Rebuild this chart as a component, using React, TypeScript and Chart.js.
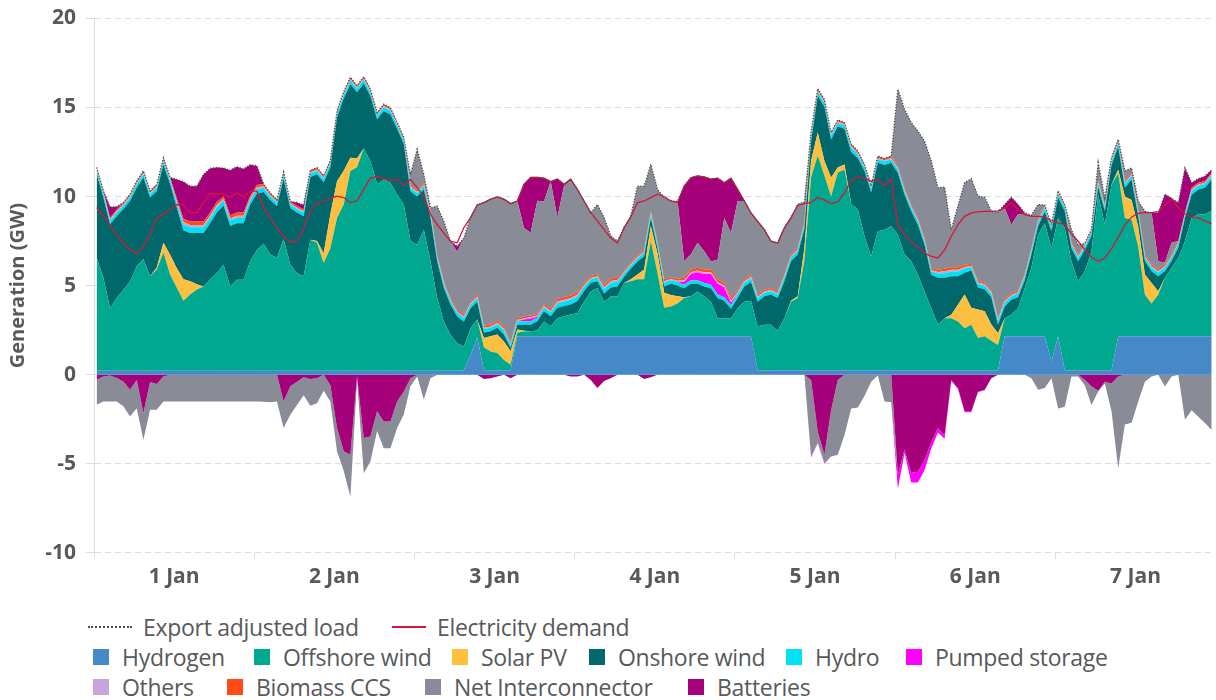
import React, { useEffect, useRef } from "react";
import { Chart, registerables } from "chart.js";

Chart.register(...registerables);

// ---------- DATA (hourly, 7 days = 168 values) ----------
const dayLabels = ["1 Jan", "2 Jan", "3 Jan", "4 Jan", "5 Jan", "6 Jan", "7 Jan"];

const hydrogen = [
  0.22, 0.22, 0.22, 0.22, 0.22, 0.22, 0.22, 0.22, 0.22, 0.22, 0.22, 0.22,
  0.22, 0.22, 0.22, 0.22, 0.22, 0.22, 0.22, 0.22, 0.22, 0.22, 0.22, 0.22,
  0.22, 0.22, 0.22, 0.22, 0.22, 0.22, 0.22, 0.22, 0.22, 0.22, 0.22, 0.22,
  0.22, 0.22, 0.22, 0.22, 0.22, 0.22, 0.22, 0.22, 0.22, 0.22, 0.22, 0.22,
  0.22, 0.22, 0.22, 0.22, 0.22, 0.22, 0.22, 0.25, 1.1, 2.1, 0.25, 0.25,
  0.25, 0.25, 0.25, 2.15, 2.15, 2.15, 2.15, 2.15, 2.15, 2.15, 2.15, 2.15,
  2.15, 2.15, 2.15, 2.15, 2.15, 2.15, 2.15, 2.15, 2.15, 2.15, 2.15, 2.15,
  2.15, 2.15, 2.15, 2.15, 2.15, 2.15, 2.15, 2.15, 2.15, 2.15, 2.15, 2.15,
  2.15, 2.15, 2.15, 0.25, 0.25, 0.25, 0.25, 0.25, 0.25, 0.25, 0.25, 0.25,
  0.25, 0.25, 0.25, 0.25, 0.25, 0.25, 0.25, 0.25, 0.25, 0.25, 0.25, 0.25,
  0.25, 0.25, 0.25, 0.25, 0.25, 0.25, 0.25, 0.25, 0.25, 0.25, 0.25, 0.25,
  0.25, 0.25, 0.25, 0.25, 2.15, 2.15, 2.15, 2.15, 2.15, 2.15, 2.15, 0.75,
  2.15, 0.25, 0.25, 0.25, 0.25, 0.25, 0.25, 0.25, 0.25, 2.15, 2.15, 2.15,
  2.15, 2.15, 2.15, 2.15, 2.15, 2.15, 2.15, 2.15, 2.15, 2.15, 2.15, 2.15,
];

const offshoreWind = [
  6.35, 5.22, 3.51, 4.08, 4.55, 5.01, 5.86, 6.28, 5.31, 5.69, 6.63, 5.41,
  4.66, 3.93, 4.28, 4.56, 4.73, 5.13, 5.48, 5.95, 4.73, 5.11, 5.11, 6.14,
  6.78, 7.13, 6.53, 6.35, 7.38, 5.95, 5.48, 5.3, 7.36, 7.18, 6.05, 6.88,
  8.58, 9.33, 11.21, 11.43, 12.48, 11.78, 10.48, 10.74, 10.55, 9.88, 9.33, 7.28,
  7.08, 7.92, 6.14, 4.08, 2.76, 2.01, 1.54, 1.33, 1.5, 1.0, 1.29, 1.05,
  0.97, 0.58, 0.31, 0.2, 0.27, 0.29, 0.33, 0.83, 0.55, 1.02, 1.13, 1.23,
  1.3, 1.95, 2.52, 2.71, 1.95, 2.24, 2.24, 2.99, 3.1, 3.2, 3.2, 5.35,
  3.55, 1.6, 1.68, 1.85, 2.15, 2.25, 2.52, 2.25, 1.95, 1.02, 1.02, 1.02,
  1.58, 1.95, 2.0, 2.45, 2.55, 2.55, 2.21, 2.92, 3.85, 4.05, 6.15, 10.82,
  12.05, 10.91, 9.75, 11.1, 11.25, 9.35, 9.02, 7.52, 6.39, 7.8, 7.89, 8.08,
  7.61, 6.49, 6.11, 5.36, 4.42, 3.48, 2.55, 2.92, 2.92, 2.73, 2.35, 2.55,
  1.81, 1.91, 1.66, 1.42, 1.02, 1.21, 1.58, 2.71, 3.85, 5.71, 6.35, 6.35,
  6.65, 7.99, 6.11, 4.98, 5.55, 6.67, 9.85, 8.17, 10.43, 9.15, 6.65, 6.55,
  5.05, 2.33, 1.85, 2.33, 3.29, 3.85, 4.42, 5.34, 6.65, 6.85, 6.85, 7.05,
];

const solarPV = [
  0, 0, 0, 0, 0, 0, 0, 0, 0, 0.1, 0.55, 1.1,
  1.1, 1.2, 0.75, 0.3, 0, 0, 0, 0, 0, 0, 0, 0,
  0, 0, 0, 0, 0, 0, 0, 0, 0, 0.1, 0.55, 1.9,
  2.06, 1.9, 0.75, 0.5, 0, 0, 0, 0, 0, 0, 0, 0,
  0, 0, 0, 0, 0, 0, 0, 0, 0, 0, 0.52, 0.85,
  1.03, 1.03, 0.75, 0.18, 0.05, 0, 0, 0, 0, 0, 0, 0,
  0, 0, 0, 0, 0, 0, 0, 0, 0.1, 0.28, 0.55, 0.85,
  1.1, 0.85, 0.64, 0.4, 0.05, 0, 0, 0, 0, 0, 0, 0,
  0, 0, 0, 0, 0, 0, 0, 0, 0.05, 0.1, 0.7, 0.93,
  1.3, 0.84, 1.07, 0.28, 0.3, 0, 0, 0, 0, 0, 0, 0,
  0, 0, 0, 0, 0, 0, 0, 0, 0.19, 0.94, 1.9, 0.95,
  1.6, 1.4, 0.9, 0.66, 0, 0, 0, 0, 0, 0, 0, 0,
  0, 0, 0, 0, 0, 0, 0, 0, 0, 0.2, 1.2, 1.1,
  1.1, 1.15, 1.15, 0.2, 0, 0, 0, 0, 0, 0, 0, 0,
];

const onshoreWind = [
  4.69, 4.51, 4.71, 4.6, 4.53, 4.52, 4.42, 4.57, 4.41, 4.29, 4.4, 3.97,
  3.4, 2.75, 2.7, 2.87, 3.0, 3.15, 3.4, 3.33, 3.4, 3.17, 3.17, 3.19,
  3.15, 2.9, 3.05, 2.88, 3.4, 3.18, 3.4, 3.38, 3.52, 3.75, 3.98, 2.65,
  3.57, 4.05, 4.12, 3.7, 3.65, 3.65, 3.63, 3.84, 3.83, 3.7, 3.4, 2.8,
  2.7, 2.26, 2.44, 2.06, 1.88, 1.69, 1.5, 1.4, 1.13, 1.0, 0.29, 0.29,
  0.38, 0.39, 0.19, 0.27, 0.33, 0.36, 0.52, 0.58, 0.58, 0.58, 0.57, 0.56,
  0.68, 0.59, 0.47, 0.39, 0.45, 0.51, 0.56, 0.36, 0.6, 0.72, 0.75, 0.45,
  0.3, 0.35, 0.63, 0.6, 0.5, 0.7, 0.43, 0.55, 0.75, 1.13, 0.98, 0.53,
  0.57, 0.85, 1.05, 1.4, 1.6, 1.7, 1.84, 2.08, 2.23, 2.35, 1.1, 1.1,
  2.05, 3.05, 2.13, 2.32, 2.0, 2.9, 2.88, 3.66, 3.59, 3.85, 3.63, 3.57,
  3.47, 3.36, 2.81, 2.81, 2.63, 1.88, 2.64, 2.27, 2.17, 1.61, 1.22, 2.1,
  1.24, 1.24, 1.54, 0.47, 0.66, 0.84, 0.62, 0.44, 0.74, 0.47, 0.65, 0.95,
  1.15, 0.93, 0.74, 1.13, 1.2, 0.88, 0.45, 0.75, 1.07, 1.3, 0.5, 1.16,
  0.6, 0.75, 0.65, 0.85, 0.36, 0.38, 0.56, 1.31, 1.3, 1.4, 1.5, 1.76,
];

const hydro = [
  0.2, 0.2, 0.2, 0.2, 0.2, 0.2, 0.2, 0.2, 0.2, 0.2, 0.2, 0.2,
  0.26, 0.32, 0.32, 0.32, 0.32, 0.3, 0.3, 0.26, 0.3, 0.3, 0.3, 0.26,
  0.26, 0.24, 0.21, 0.2, 0.2, 0.2, 0.2, 0.2, 0.2, 0.2, 0.2, 0.2,
  0.2, 0.2, 0.21, 0.2, 0.21, 0.2, 0.2, 0.21, 0.21, 0.2, 0.2, 0.2,
  0.2, 0.2, 0.2, 0.2, 0.2, 0.2, 0.2, 0.2, 0.2, 0.2, 0.21, 0.2,
  0.21, 0.24, 0.16, 0.2, 0.2, 0.2, 0.2, 0.21, 0.22, 0.26, 0.26, 0.26,
  0.26, 0.24, 0.21, 0.2, 0.26, 0.26, 0.26, 0.19, 0.19, 0.19, 0.19, 0.21,
  0.19, 0.21, 0.2, 0.2, 0.2, 0.2, 0.2, 0.2, 0.2, 0.2, 0.2, 0.2,
  0.24, 0.21, 0.23, 0.21, 0.2, 0.2, 0.2, 0.2, 0.2, 0.2, 0.21, 0.26,
  0.21, 0.21, 0.21, 0.19, 0.19, 0.24, 0.21, 0.2, 0.2, 0.2, 0.2, 0.2,
  0.2, 0.2, 0.2, 0.2, 0.2, 0.2, 0.24, 0.26, 0.26, 0.26, 0.24, 0.2,
  0.2, 0.2, 0.2, 0.21, 0.21, 0.2, 0.2, 0.2, 0.2, 0.2, 0.2, 0.2,
  0.2, 0.2, 0.2, 0.2, 0.2, 0.2, 0.2, 0.2, 0.23, 0.21, 0.21, 0.21,
  0.21, 0.2, 0.21, 0.2, 0.21, 0.2, 0.2, 0.16, 0.21, 0.2, 0.2, 0.2,
];

const pumpedGeneration = [
  0, 0, 0, 0, 0, 0, 0, 0, 0, 0, 0, 0,
  0, 0, 0, 0, 0, 0, 0, 0, 0, 0, 0, 0,
  0, 0, 0, 0, 0, 0, 0, 0, 0, 0, 0, 0,
  0, 0, 0, 0, 0, 0, 0, 0, 0, 0, 0, 0,
  0, 0, 0, 0, 0, 0, 0, 0, 0, 0, 0, 0,
  0, 0, 0, 0, 0.1, 0.15, 0.05, 0, 0, 0, 0, 0,
  0, 0, 0, 0, 0, 0, 0, 0, 0, 0, 0, 0,
  0, 0, 0, 0, 0.15, 0.35, 0.45, 0.5, 0.6, 0.6, 0.55, 0.15,
  0, 0, 0, 0, 0, 0, 0, 0, 0, 0, 0, 0,
  0, 0, 0, 0, 0, 0, 0, 0, 0, 0, 0, 0,
  0, 0, 0, 0, 0, 0, 0, 0, 0, 0, 0, 0,
  0, 0, 0, 0, 0, 0, 0, 0, 0, 0, 0, 0,
  0, 0, 0, 0, 0, 0, 0, 0, 0, 0, 0, 0,
  0, 0, 0, 0, 0, 0, 0, 0, 0, 0, 0, 0,
];

const pumpedPumping = [
  0, 0, 0, 0, 0, 0, 0, 0, 0, 0, 0, 0,
  0, 0, 0, 0, 0, 0, 0, 0, 0, 0, 0, 0,
  0, 0, 0, 0, 0, 0, 0, 0, 0, 0, 0, 0,
  0, 0, 0, 0, 0, 0, 0, 0, 0, 0, 0, 0,
  0, 0, 0, 0, 0, 0, 0, 0, 0, 0, 0, 0,
  0, 0, 0, 0, 0, 0, 0, 0, 0, 0, 0, 0,
  0, 0, 0, 0, 0, 0, 0, 0, 0, 0, 0, 0,
  0, 0, 0, 0, 0, 0, 0, 0, 0, 0, 0, 0,
  0, 0, 0, 0, 0, 0, 0, 0, 0, 0, 0, -0.05,
  -0.05, -0.05, 0, 0, 0, 0, 0, 0, 0, 0, 0, 0,
  -0.8, -0.2, -0.55, -0.6, -0.55, -0.35, -0.25, -0.2, -0.05, -0.05, -0.05, -0.05,
  -0.03, 0, 0, 0, 0, 0, 0, 0, 0, 0, 0, 0,
  0, 0, 0, 0, 0, 0, 0, 0, 0, 0, 0, 0,
  0, 0, 0, 0, 0, 0, 0, 0, 0, 0, 0, 0,
];

const others = [
  0.07, 0.07, 0.07, 0.07, 0.07, 0.07, 0.07, 0.07, 0.07, 0.07, 0.07, 0.07,
  0.1, 0.13, 0.13, 0.13, 0.13, 0.12, 0.12, 0.1, 0.12, 0.12, 0.12, 0.1,
  0.1, 0.09, 0.08, 0.07, 0.07, 0.07, 0.07, 0.07, 0.07, 0.07, 0.07, 0.07,
  0.07, 0.07, 0.08, 0.07, 0.07, 0.07, 0.07, 0.07, 0.07, 0.07, 0.07, 0.07,
  0.07, 0.07, 0.07, 0.07, 0.07, 0.07, 0.07, 0.07, 0.07, 0.07, 0.08, 0.07,
  0.08, 0.09, 0.06, 0.07, 0.07, 0.07, 0.07, 0.08, 0.08, 0.1, 0.1, 0.1,
  0.1, 0.09, 0.08, 0.07, 0.1, 0.1, 0.1, 0.07, 0.07, 0.07, 0.07, 0.08,
  0.07, 0.08, 0.07, 0.07, 0.1, 0.1, 0.1, 0.1, 0.1, 0.1, 0.1, 0.1,
  0.09, 0.08, 0.08, 0.07, 0.07, 0.07, 0.07, 0.07, 0.07, 0.07, 0.08, 0.1,
  0.08, 0.08, 0.08, 0.07, 0.07, 0.09, 0.08, 0.07, 0.07, 0.07, 0.07, 0.07,
  0.07, 0.07, 0.07, 0.07, 0.07, 0.07, 0.09, 0.1, 0.1, 0.1, 0.09, 0.07,
  0.07, 0.07, 0.07, 0.08, 0.08, 0.07, 0.07, 0.07, 0.07, 0.07, 0.07, 0.07,
  0.07, 0.07, 0.07, 0.07, 0.07, 0.07, 0.07, 0.07, 0.08, 0.08, 0.08, 0.08,
  0.08, 0.07, 0.08, 0.07, 0.08, 0.07, 0.07, 0.06, 0.08, 0.07, 0.07, 0.07,
];

const biomassCCS = [
  0.1, 0.1, 0.1, 0.1, 0.1, 0.1, 0.1, 0.1, 0.1, 0.1, 0.1, 0.1,
  0.14, 0.2, 0.2, 0.2, 0.2, 0.18, 0.18, 0.14, 0.18, 0.18, 0.18, 0.14,
  0.14, 0.12, 0.11, 0.1, 0.1, 0.1, 0.1, 0.1, 0.1, 0.1, 0.1, 0.1,
  0.1, 0.1, 0.11, 0.1, 0.1, 0.1, 0.1, 0.1, 0.1, 0.1, 0.1, 0.1,
  0.1, 0.1, 0.1, 0.1, 0.1, 0.1, 0.1, 0.1, 0.1, 0.1, 0.11, 0.1,
  0.11, 0.12, 0.08, 0.1, 0.1, 0.1, 0.1, 0.11, 0.12, 0.14, 0.14, 0.14,
  0.14, 0.12, 0.11, 0.1, 0.14, 0.14, 0.14, 0.09, 0.09, 0.09, 0.09, 0.11,
  0.09, 0.11, 0.1, 0.1, 0.15, 0.15, 0.15, 0.15, 0.15, 0.15, 0.15, 0.15,
  0.12, 0.11, 0.12, 0.1, 0.1, 0.1, 0.1, 0.1, 0.1, 0.1, 0.11, 0.14,
  0.11, 0.11, 0.11, 0.09, 0.09, 0.12, 0.11, 0.1, 0.1, 0.1, 0.1, 0.1,
  0.1, 0.1, 0.1, 0.1, 0.1, 0.1, 0.12, 0.14, 0.14, 0.14, 0.12, 0.1,
  0.1, 0.1, 0.1, 0.11, 0.11, 0.1, 0.1, 0.1, 0.1, 0.1, 0.1, 0.1,
  0.1, 0.1, 0.1, 0.1, 0.1, 0.1, 0.1, 0.1, 0.12, 0.11, 0.11, 0.11,
  0.11, 0.1, 0.11, 0.1, 0.11, 0.1, 0.1, 0.08, 0.11, 0.1, 0.1, 0.1,
];

const interconnectorImport = [
  0, 0, 0, 0, 0, 0, 0, 0, 0, 0, 0, 0,
  0, 0, 0, 0, 0, 0, 0, 0, 0, 0, 0, 0,
  0, 0, 0, 0, 0, 0, 0, 0, 0, 0, 0, 0,
  0, 0, 0, 0, 0, 0, 0, 0, 0, 0, 0, 0.57,
  2.28, 0.47, 0.19, 2.73, 3.37, 3.19, 3.27, 4.32, 4.72, 5.06, 6.91, 7.04,
  6.95, 7.15, 7.8, 6.58, 4.97, 4.65, 6.34, 5.76, 7.14, 4.57, 6.24, 6.44,
  5.77, 4.61, 3.54, 3.93, 3.77, 2.39, 2.05, 2.41, 2.6, 3.88, 3.58, 2.6,
  2.95, 4.59, 4.28, 4.35, 0.93, 0.85, 1.41, 1.03, 0.45, 1.1, 3.65, 3.65,
  5.0, 4.4, 3.45, 4.13, 3.37, 2.62, 2.72, 2.62, 2.07, 2.45, 1.1, 0,
  0, 0, 0, 0, 0, 0, 0, 0, 0, 0, 0, 0,
  4.32, 4.43, 4.61, 4.89, 5.43, 6.02, 4.61, 4.59, 2.11, 3.44, 4.6, 4.78,
  4.75, 4.79, 4.45, 5.93, 5.12, 3.85, 4.28, 3.36, 1.84, 0.85, 0, 0,
  0, 0, 0.67, 0.57, 0, 0, 0.98, 0.38, 0, 0, 0.54, 0.24,
  0.44, 2.42, 2.88, 0.46, 0.09, 0.65, 0, 0, 0, 0, 0, 0,
];

const interconnectorExport = [
  -1.41, -1.4, -1.45, -1.31, -1.4, -1.51, -1.6, -1.5, -1.56, -1.44, -1.4, -1.5,
  -1.5, -1.5, -1.5, -1.5, -1.5, -1.5, -1.5, -1.5, -1.5, -1.5, -1.5, -1.5,
  -1.5, -1.52, -1.55, -1.5, -1.5, -1.6, -1.3, -1.0, -1.5, -1.4, -0.9, -0.9,
  -1.3, -1.1, -2.35, -0.2, -1.97, -1.4, -1.1, -1.5, -1.5, -1.5, -1.3, -0.45,
  -0.1, -1.4, -0.2, 0, 0, 0, 0, 0, 0, 0, 0, 0,
  0, 0, 0, 0, 0, 0, 0, 0, 0, 0, 0, 0,
  0, 0, 0, 0, 0, 0, 0, 0, 0, 0, 0, 0,
  0, 0, 0, 0, 0, 0, 0, 0, 0, 0, 0, 0,
  0, 0, 0, 0, 0, 0, 0, 0, 0, 0, 0, -4.3,
  -0.6, -0.45, -2.6, -4.2, -3.4, -1.9, -1.85, -1.2, -0.4, -0.05, -1.5, -1.55,
  0, 0, 0, 0, 0, 0, 0, 0, 0, 0, 0, 0,
  0, 0, 0, 0, 0, 0, 0, 0, -0.2, -0.85, -0.75, -0.2,
  -1.9, -1.8, -0.1, -0.1, -0.3, -1.05, -0.05, -0.1, -1.55, -5.15, -2.8, -2.7,
  -1.5, -0.4, -0.1, 0, -0.66, -0.1, 0, -2.53, -2.0, -2.36, -2.72, -3.1,
];

const batteryDischarge = [
  0, 0, 0.6, 0.15, 0, 0, 0, 0, 0, 0, 0, 0,
  1.08, 2.08, 1.98, 1.98, 2.64, 2.48, 1.93, 1.6, 2.53, 2.57, 2.44, 1.73,
  1.07, 0, 0, 0, 0, 0, 0.2, 0.25, 0, 0, 0, 0,
  0, 0, 0, 0, 0, 0, 0, 0, 0, 0, 0, 0,
  0, 0, 0, 0, 0, 0, 0.3, 0, 0, 0, 0, 0,
  0, 0, 0, 0, 2.45, 3.1, 1.31, 1.31, 0, 2.16, 0.1, 0.1,
  0, 0, 0, 0, 0, 0, 0, 0, 0, 0, 0, 0,
  0, 0, 0, 0, 4.2, 4.3, 3.75, 4.17, 4.63, 4.58, 1.97, 3.08,
  0.65, 0, 0, 0, 0, 0, 0, 0, 0, 0, 0, 0,
  0, 0, 0, 0, 0, 0, 0, 0, 0, 0, 0, 0,
  0, 0, 0, 0, 0, 0, 0, 0, 0, 0, 0, 0,
  0, 0, 0, 0, 0.2, 1.54, 0.55, 0.05, 0, 0, 0, 0,
  0, 0, 0, 0, 0, 0, 0, 0, 0, 0, 0, 0,
  0, 0, 0, 2.72, 3.84, 2.5, 2.14, 2.5, 0.27, 0.23, 0.27, 0.17,
];

const batteryCharge = [
  -0.28, -0.1, -0.05, -0.19, -0.38, -0.84, -0.28, -2.16, -0.41, -0.53, -0.1, 0,
  0, 0, 0, 0, 0, 0, 0, 0, 0, 0, 0, 0,
  0, 0, 0, 0, -1.5, -0.65, -0.4, -0.15, -0.25, -0.2, 0, -0.6,
  -3.0, -4.3, -4.5, -0.1, -3.56, -3.47, -2.06, -2.63, -2.63, -1.5, -0.94, -0.2,
  0, 0, 0, 0, 0, 0, 0, 0, 0, 0, -0.25, -0.2,
  -0.1, 0, -0.2, 0, 0, 0, 0, 0, 0, 0, 0, -0.1,
  -0.1, 0, -0.3, -0.75, -0.35, -0.2, 0, 0, 0, 0, -0.25, -0.15,
  0, 0, 0, 0, 0, 0, 0, 0, 0, 0, 0, 0,
  0, 0, 0, 0, 0, 0, 0, 0, 0, 0, 0, -0.3,
  -3.2, -4.5, -2.0, -0.3, 0, 0, 0, 0, 0, 0, 0, 0,
  -5.6, -4.2, -5.5, -5.45, -4.8, -3.8, -3.0, -3.4, -0.3, -0.75, -2.06, -2.06,
  -0.96, -0.86, -0.2, 0, 0, 0, 0, 0, 0, 0, 0, 0,
  0, 0, 0, 0, -0.3, -0.65, -0.9, -0.4, -0.5, -0.1, 0, 0,
  0, 0, 0, 0, 0, 0, 0, 0, 0, 0, 0, 0,
];

const electricityDemand = [
  9.38, 8.9, 8.4, 7.86, 7.39, 7.02, 6.79, 7.2, 7.86, 8.8, 9.0, 9.29,
  9.55, 9.53, 9.1, 9.1, 9.66, 10.17, 10.17, 10.13, 9.94, 10.2, 9.98, 10.3,
  10.3, 9.38, 8.8, 8.26, 7.75, 7.45, 7.5, 8.24, 9.2, 9.6, 9.75, 9.9,
  10.02, 9.94, 9.66, 9.75, 10.4, 11.05, 11.1, 11.05, 10.9, 10.96, 10.64, 10.96,
  10.5, 10.0, 9.0, 8.43, 7.95, 7.5, 7.4, 8.26, 8.82, 9.53, 9.66, 9.85,
  9.98, 9.85, 9.6, 9.75, 10.69, 11.07, 11.07, 11.03, 10.84, 10.98, 10.69, 10.98,
  10.4, 9.75, 9.1, 8.63, 8.14, 7.67, 7.39, 8.26, 8.86, 9.66, 9.75, 9.94,
  10.13, 10.0, 9.75, 9.66, 10.58, 11.05, 11.16, 11.1, 10.98, 11.03, 10.77, 11.03,
  10.4, 9.75, 9.08, 8.61, 8.14, 7.49, 7.39, 8.24, 8.82, 9.5, 9.6, 9.66,
  9.94, 9.8, 9.6, 9.7, 10.2, 10.9, 11.1, 11.03, 10.86, 10.96, 10.64, 10.96,
  8.42, 7.86, 7.49, 7.15, 6.83, 6.64, 6.55, 7.0, 7.77, 8.42, 8.89, 9.08,
  9.14, 9.17, 9.17, 9.2, 9.36, 9.64, 9.27, 8.98, 8.89, 8.89, 8.84, 8.65,
  8.52, 8.42, 7.9, 7.49, 7.02, 6.59, 6.36, 6.55, 7.07, 7.71, 8.4, 8.84,
  9.06, 9.1, 9.1, 9.15, 9.53, 9.85, 9.4, 9.02, 8.84, 8.8, 8.63, 8.46,
];

const yTicks = [-10, -5, 0, 5, 10, 15, 20];

// ---------- STYLE ----------
const FONT = "'Open Sans', 'DejaVu Sans', sans-serif";
const TEXT = "#58595b";
const GRID = "#dcdde3";
const C = {
  hydrogen: "#4589c8",
  offshore: "#00a88f",
  solar: "#fcbf3f",
  onshore: "#00686a",
  hydro: "#00e2f4",
  pumped: "#ff00ff",
  others: "#c9a3dc",
  biomass: "#ff4c12",
  interconnector: "#898b96",
  batteries: "#a6007b",
  demand: "#d2183c",
  load: "#4a4a4a",
};

type LegendItem = { label: string; kind: "box" | "dotted" | "line"; color: string; x: number; y: number };
const legendItems: LegendItem[] = [
  { label: "Export adjusted load", kind: "dotted", color: C.load, x: 88, y: 627 },
  { label: "Electricity demand", kind: "line", color: C.demand, x: 392, y: 627 },
  { label: "Hydrogen", kind: "box", color: C.hydrogen, x: 93, y: 657 },
  { label: "Offshore wind", kind: "box", color: C.offshore, x: 254, y: 657 },
  { label: "Solar PV", kind: "box", color: C.solar, x: 452, y: 657 },
  { label: "Onshore wind", kind: "box", color: C.onshore, x: 589, y: 657 },
  { label: "Hydro", kind: "box", color: C.hydro, x: 786, y: 657 },
  { label: "Pumped storage", kind: "box", color: C.pumped, x: 906, y: 657 },
  { label: "Others", kind: "box", color: C.others, x: 93, y: 687 },
  { label: "Biomass CCS", kind: "box", color: C.biomass, x: 227, y: 687 },
  { label: "Net Interconnector", kind: "box", color: C.interconnector, x: 425, y: 687 },
  { label: "Batteries", kind: "box", color: C.batteries, x: 688, y: 687 },
];

export default function App() {
  const ref = useRef<HTMLCanvasElement | null>(null);

  useEffect(() => {
    const canvas = ref.current;
    if (!canvas) return;
    const xy = (arr: number[]) => arr.map((v, i) => ({ x: i + 0.4, y: v }));
    const positives = [
      hydrogen, offshoreWind, solarPV, onshoreWind, hydro, pumpedGeneration,
      others, biomassCCS, interconnectorImport, batteryDischarge,
    ];
    const exportAdjustedLoad = hydrogen.map((_, i) =>
      positives.reduce((s, a) => s + a[i], 0)
    );
    const area = (label: string, data: number[], color: string, stack: string, fill: any) => ({
      label,
      data: xy(data),
      backgroundColor: color,
      borderColor: "rgba(0,0,0,0)",
      borderWidth: 0,
      pointRadius: 0,
      fill,
      stack,
      tension: 0,
    });

    const datasets: any[] = [
      {
        label: "Export adjusted load",
        data: xy(exportAdjustedLoad),
        borderColor: C.load,
        borderWidth: 1.4,
        borderDash: [1.2, 1.6],
        pointRadius: 0,
        fill: false,
        stack: "load",
        tension: 0,
      },
      {
        label: "Electricity demand",
        data: xy(electricityDemand),
        borderColor: C.demand,
        borderWidth: 1.3,
        pointRadius: 0,
        fill: false,
        stack: "demand",
        tension: 0,
      },
      area("Hydrogen", hydrogen, C.hydrogen, "pos", "origin"),
      area("Offshore wind", offshoreWind, C.offshore, "pos", "-1"),
      area("Solar PV", solarPV, C.solar, "pos", "-1"),
      area("Onshore wind", onshoreWind, C.onshore, "pos", "-1"),
      area("Hydro", hydro, C.hydro, "pos", "-1"),
      area("Pumped storage", pumpedGeneration, C.pumped, "pos", "-1"),
      area("Others", others, C.others, "pos", "-1"),
      area("Biomass CCS", biomassCCS, C.biomass, "pos", "-1"),
      area("Net Interconnector", interconnectorImport, C.interconnector, "pos", "-1"),
      area("Batteries", batteryDischarge, C.batteries, "pos", "-1"),
      area("Batteries (charging)", batteryCharge, C.batteries, "neg", "origin"),
      area("Net Interconnector (export)", interconnectorExport, C.interconnector, "neg", "-1"),
      area("Pumped storage (pumping)", pumpedPumping, C.pumped, "neg", "-1"),
    ];

    const xTickValues = dayLabels.flatMap((_, d) => [d * 24, d * 24 + 12]);

    const chart = new Chart(canvas, {
      type: "line",
      data: { datasets },
      options: {
        responsive: false,
        animation: false,
        events: [],
        layout: { padding: { left: 0, right: 3, top: 0, bottom: 4 } },
        plugins: { legend: { display: false }, tooltip: { enabled: false } },
        elements: { point: { radius: 0 } },
        scales: {
          x: {
            type: "linear",
            min: 0,
            max: 167.6,
            afterBuildTicks: (axis: any) => {
              axis.ticks = xTickValues.map((v) => ({ value: v }));
            },
            ticks: {
              autoSkip: false,
              maxRotation: 0,
              padding: 6,
              color: TEXT,
              font: { family: FONT, size: 21, weight: "bold" },
              callback: (v: any) => {
                const n = Number(v);
                return n % 24 === 12 ? dayLabels[(n - 12) / 24] : "";
              },
            },
            grid: {
              drawOnChartArea: false,
              drawTicks: true,
              tickLength: 6,
              color: "rgba(0,0,0,0)",
              tickColor: (ctx: any) =>
                ctx.tick && ctx.tick.value % 24 === 0 ? GRID : "rgba(0,0,0,0)",
            },
            border: { display: false },
          },
          y: {
            stacked: true,
            min: -10,
            max: 20,
            afterBuildTicks: (axis: any) => {
              axis.ticks = yTicks.map((v) => ({ value: v }));
            },
            afterFit: (scale: any) => {
              scale.width = 94;
            },
            ticks: {
              padding: 10,
              color: TEXT,
              font: { family: FONT, size: 21, weight: "bold", lineHeight: 0.8 },
              callback: (v: any) => String(v),
            },
            grid: { color: GRID, lineWidth: 1, tickLength: 8, tickColor: GRID },
            border: { display: true, color: GRID, width: 1, dash: [6, 4] },
            title: {
              display: true,
              text: "Generation (GW)",
              color: TEXT,
              font: { family: FONT, size: 20, weight: "bold" },
              padding: { top: 6, bottom: 0 },
            },
          },
        },
      } as any,
    });
    return () => chart.destroy();
  }, []);

  return (
    <div style={{ position: "absolute", left: 0, top: 0, width: 1216, height: 700, fontFamily: FONT }}>
      <canvas ref={ref} width={1216} height={600} style={{ display: "block", width: 1216, height: 600 }} />
      {legendItems.map((it) => (
        <div
          key={it.label}
          style={{
            position: "absolute",
            left: it.x,
            top: it.y - 16,
            height: 32,
            display: "flex",
            alignItems: "center",
            whiteSpace: "nowrap",
            fontSize: 23,
            color: TEXT,
            letterSpacing: -0.3,
          }}
        >
          {it.kind === "box" && (
            <span style={{ display: "inline-block", width: 16, height: 16, background: it.color }} />
          )}
          {it.kind === "dotted" && (
            <span style={{ display: "inline-block", width: 44, height: 0, borderTop: `2px dotted ${it.color}` }} />
          )}
          {it.kind === "line" && (
            <span style={{ display: "inline-block", width: 34, height: 2, background: it.color }} />
          )}
          <span style={{ marginLeft: it.kind === "box" ? 13 : 11 }}>{it.label}</span>
        </div>
      ))}
    </div>
  );
}
